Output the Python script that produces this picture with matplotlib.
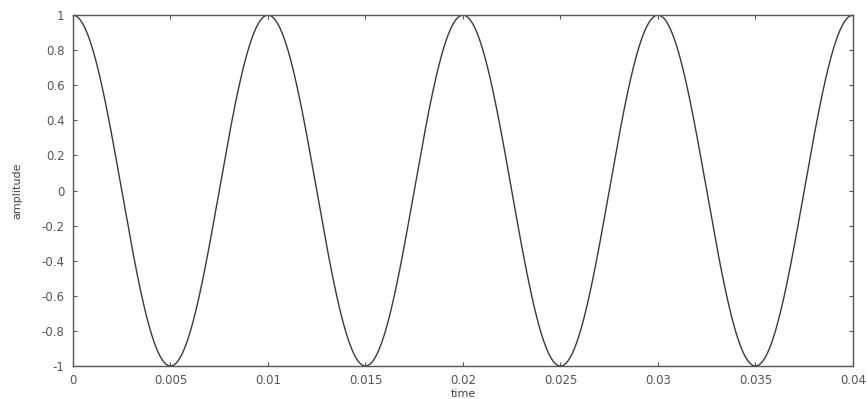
import numpy as np
import matplotlib.pyplot as plt
from matplotlib.ticker import FuncFormatter

# signal parameters: peaks every 0.01 s, amplitude 1
frequency = 100.0
amplitude = 1.0
t_start = 0.0
t_end = 0.04

x_ticks = [0, 0.005, 0.01, 0.015, 0.02, 0.025, 0.03, 0.035, 0.04]
y_ticks = [-1, -0.8, -0.6, -0.4, -0.2, 0, 0.2, 0.4, 0.6, 0.8, 1]

t = np.linspace(t_start, t_end, 2000)
y = amplitude * np.cos(2 * np.pi * frequency * t)

fig = plt.figure(figsize=(8.67, 3.99), dpi=100)
ax = fig.add_axes([0.0842, 0.0827, 0.8996, 0.8793])

ax.plot(t, y, color='#3a3a3a', linewidth=1.0)

ax.set_xlim(t_start, t_end)
ax.set_ylim(-1, 1)
ax.set_xticks(x_ticks)
ax.set_yticks(y_ticks)
fmt = FuncFormatter(lambda v, pos: '%g' % v)
ax.xaxis.set_major_formatter(fmt)
ax.yaxis.set_major_formatter(fmt)

ax.tick_params(direction='in', top=True, right=True, length=3, width=0.8,
               labelsize=8.5, colors='#555555', pad=6)
for s in ax.spines.values():
    s.set_color('#555555')
    s.set_linewidth(1.0)

ax.set_xlabel('time', fontsize=8, color='#444444', labelpad=1)
ax.set_ylabel('amplitude', fontsize=8, color='#444444', labelpad=14)

fig.savefig('out.png', dpi=100)
